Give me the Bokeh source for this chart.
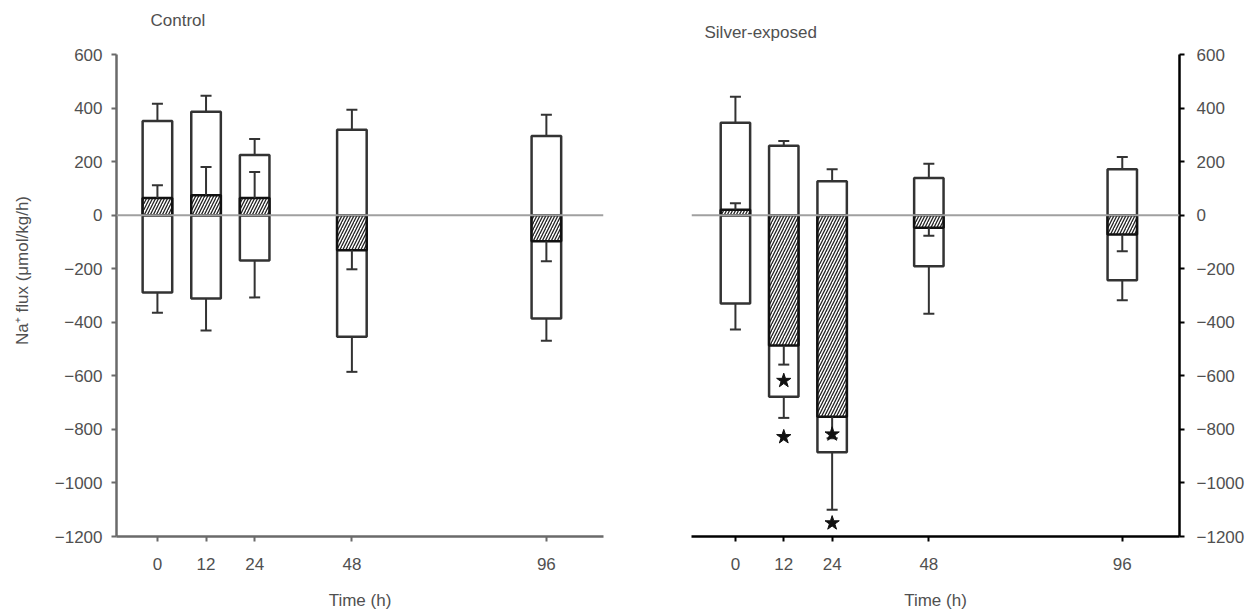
from bokeh.plotting import figure
from bokeh.layouts import row
from bokeh.models import FixedTicker, Span, Label
from bokeh.embed import file_html
from bokeh.resources import INLINE

times = [0, 12, 24, 48, 96]
y_ticks = [-1200, -1000, -800, -600, -400, -200, 0, 200, 400, 600]

ctrl_influx = [352, 386, 225, 319, 296]
ctrl_influx_se = [64, 60, 60, 75, 79]
ctrl_net = [64, 75, 64, -131, -97]
ctrl_net_se = [48, 105, 97, 71, 75]
ctrl_efflux = [-289, -311, -169, -454, -386]
ctrl_efflux_se = [75, 120, 138, 131, 83]

silver_influx = [345, 259, 127, 139, 172]
silver_influx_se = [97, 18, 45, 53, 45]
silver_net = [20, -487, -753, -47, -72]
silver_net_se = [25, 71, 80, 30, 63]
silver_efflux = [-330, -678, -885, -191, -243]
silver_efflux_se = [97, 79, 215, 177, 75]

star_times = [12, 12, 24, 24]
star_values = [-618, -828, -818, -1150]

BAR_W = 7.3
FONT = "Liberation Sans"
FS = "17px"
TXT = "#505050"
Y_MIN, Y_MAX = -1200, 600
Y_HEADROOM = 187  # empty space above the axis inside the frame, holds the panel title


def panel(title, influx, influx_se, net, net_se, efflux, efflux_se, xr, side,
          axis_color, width, ml, mr, title_dx, title_dy):
    p = figure(width=width, height=612, x_range=xr, y_range=(Y_MIN, Y_MAX + Y_HEADROOM),
               output_backend="svg", toolbar_location=None,
               min_border_left=ml, min_border_right=mr,
               min_border_top=4, min_border_bottom=76,
               y_axis_location=side)
    p.outline_line_color = None
    p.grid.visible = False
    p.background_fill_color = "white"

    p.add_layout(Label(x=xr[0], y=Y_MAX, x_offset=title_dx, y_offset=title_dy,
                       text=title, text_font=FONT, text_font_size=FS,
                       text_color=TXT, text_baseline="middle", text_align="left"))

    zero = Span(location=0, dimension="width", line_color="#a0a0a0", line_width=2)
    p.add_layout(zero)

    base = [0] * len(times)
    # open influx and efflux boxes
    p.vbar(x=times, bottom=base, top=influx, width=BAR_W, fill_color="white",
           line_color="#333333", line_width=2.5)
    p.vbar(x=times, bottom=base, top=efflux, width=BAR_W, fill_color="white",
           line_color="#333333", line_width=2.5)
    # hatched net bars
    p.vbar(x=times, bottom=base, top=net, width=BAR_W, fill_color="white",
           hatch_pattern="/", hatch_color="#222222", hatch_scale=6, hatch_weight=1.3,
           line_color="#111111", line_width=2.5)

    def err(vals, se):
        ends = []
        for v, s in zip(vals, se):
            d = 1 if v >= 0 else -1
            ends.append(v + d * s)
        p.segment(x0=times, y0=vals, x1=times, y1=ends, line_color="#333333", line_width=2)
        p.scatter(x=times, y=ends, marker="dash", size=11, line_color="#333333",
                  line_width=2)

    err(influx, influx_se)
    err(efflux, efflux_se)
    err(net, net_se)

    p.xaxis.ticker = FixedTicker(ticks=times)
    p.yaxis.ticker = FixedTicker(ticks=y_ticks)
    p.yaxis.bounds = (Y_MIN, Y_MAX)
    for ax in (p.xaxis, p.yaxis):
        ax.axis_line_color = axis_color
        ax.axis_line_width = 2.5
        ax.major_tick_line_color = axis_color
        ax.major_tick_line_width = 2
        ax.minor_tick_line_color = None
        ax.major_tick_out = 5
        ax.major_tick_in = 0
        ax.major_label_text_font = FONT
        ax.major_label_text_font_size = FS
        ax.major_label_text_color = TXT
        ax.axis_label_text_font = FONT
        ax.axis_label_text_font_size = FS
        ax.axis_label_text_font_style = "normal"
        ax.axis_label_text_color = TXT
    p.xaxis.major_label_standoff = 16
    p.xaxis.axis_label = "Time (h)"
    p.xaxis.axis_label_standoff = 18
    return p


left = panel("Control", ctrl_influx, ctrl_influx_se, ctrl_net, ctrl_net_se,
             ctrl_efflux, ctrl_efflux_se, (-10.1, 110.1), "left", "#6a6a6a",
             640, 116, 37, 34, 34)
left.yaxis.axis_label = "Na\u207a flux (\u03bcmol/kg/h)"
left.yaxis.axis_label_standoff = 20
left.yaxis.major_label_standoff = 9

right = panel("Silver-exposed", silver_influx, silver_influx_se, silver_net, silver_net_se,
              silver_efflux, silver_efflux_se, (-10.9, 110.2), "right", "#000000",
              608, 51, 69, 13, 22)
right.yaxis.major_label_standoff = 12
right.scatter(x=star_times, y=star_values, marker="star", size=15,
              fill_color="#111111", line_color="#111111")

layout = row(left, right)
open("out.html", "w").write(file_html(layout, INLINE))
